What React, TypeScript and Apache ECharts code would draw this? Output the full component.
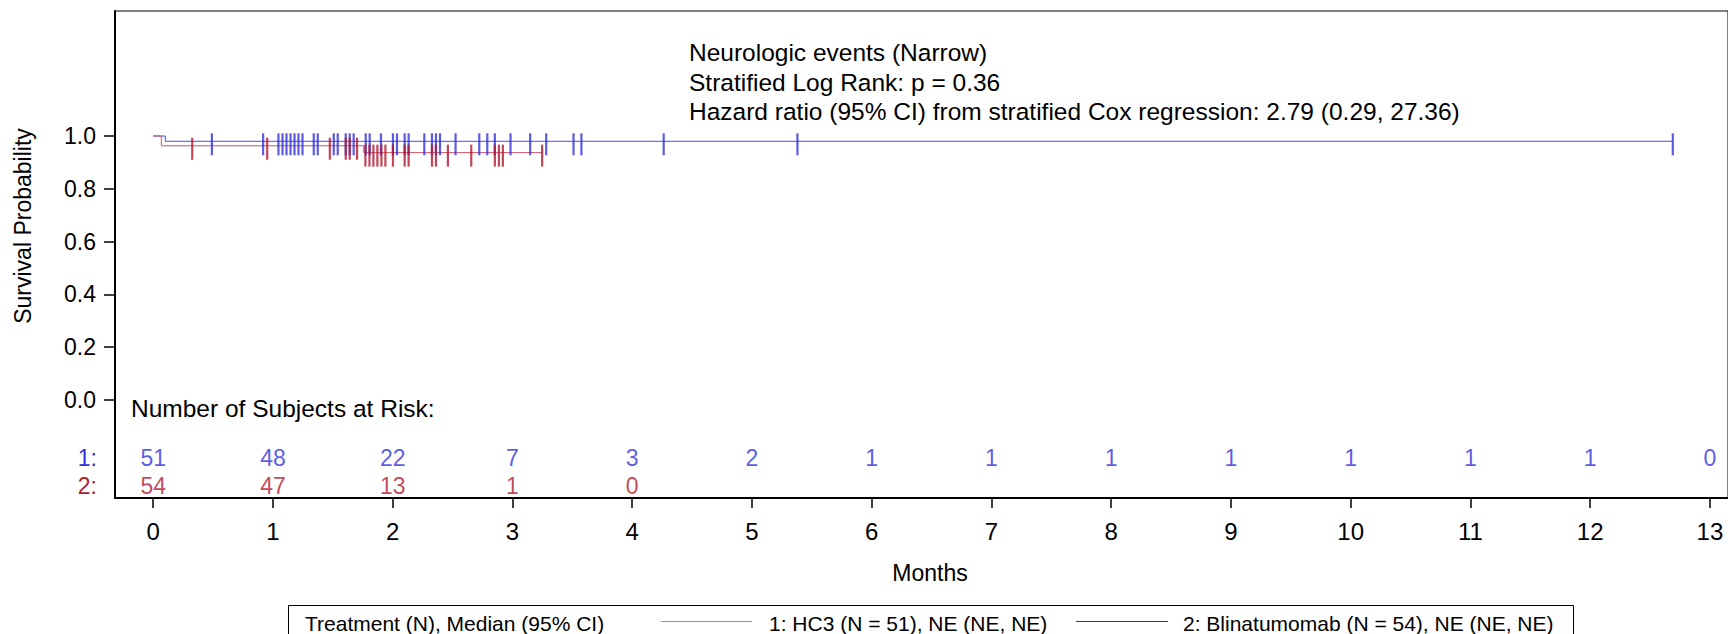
import React, { useEffect, useRef } from "react";
import * as echarts from "echarts";

// ---- data ----
const monthTicks = [0, 1, 2, 3, 4, 5, 6, 7, 8, 9, 10, 11, 12, 13];
const survTicks = [0, 0.2, 0.4, 0.6, 0.8, 1.0];

// Kaplan-Meier step curves [month, survival]
const hc3Curve = [
  [0, 1.0],
  [0.101, 0.980],
  [12.69, 0.980],
];
const blinCurve = [
  [0, 1.0],
  [0.068, 0.963],
  [1.758, 0.937],
  [3.248, 0.937],
];

// censoring times (months)
const hc3Censor = [
  0.49, 0.918, 1.046, 1.08, 1.113, 1.147, 1.18, 1.213, 1.247, 1.341, 1.374, 1.508, 1.541,
  1.608, 1.641, 1.674, 1.775, 1.808, 1.902, 2.002, 2.036, 2.1, 2.133, 2.264, 2.328, 2.361,
  2.395, 2.525, 2.723, 2.79, 2.853, 2.984, 3.148, 3.282, 3.51, 3.576, 4.263, 5.38, 12.69,
];
const blinCensor = [
  0.326, 0.952, 1.475, 1.608, 1.641, 1.702, 1.772, 1.806, 1.839, 1.872, 1.906, 1.939, 2.002,
  2.1, 2.133, 2.328, 2.361, 2.461, 2.656, 2.853, 2.887, 2.92, 3.248,
];

// numbers at risk at each month
const riskHC3 = [51, 48, 22, 7, 3, 2, 1, 1, 1, 1, 1, 1, 1, 0];
const riskBlin = [54, 47, 13, 1, 0];

const annotationLines = [
  "Neurologic events (Narrow)",
  "Stratified Log Rank: p = 0.36",
  "Hazard ratio (95% CI) from stratified Cox regression: 2.79 (0.29, 27.36)",
];
const legendTitle = "Treatment (N), Median (95% CI)";
const legendHC3 = "1: HC3 (N = 51), NE (NE, NE)";
const legendBlin = "2: Blinatumomab (N = 54), NE (NE, NE)";

// ---- styling / layout constants ----
const FONT = "'Liberation Sans', Arial, sans-serif";
const BLUE = "#3232dc";
const RED = "#b3182e";
const BLUE_LINE = "#4a4ae6";
const RED_LINE = "#cc5566";
const X_MIN = -0.319;
const X_MAX = 13.151;
const Y_MIN = -0.3712;
const Y_MAX = 1.4735;
const RISK_ROW1 = -0.2197;
const RISK_ROW2 = -0.3258;

function survAt(curve: number[][], t: number): number {
  let s = curve[0][1];
  for (const [x, y] of curve) {
    if (x <= t) s = y;
  }
  return s;
}

export default function App() {
  const ref = useRef<HTMLDivElement>(null);

  useEffect(() => {
    if (!ref.current) return;
    const chart = echarts.init(ref.current, undefined, { renderer: "svg" });

    const censorSeries = (name: string, times: number[], curve: number[][], color: string) => ({
      name,
      type: "scatter",
      data: times.map((t) => [t, survAt(curve, t)]),
      symbol: "rect",
      symbolSize: [2.2, 22],
      symbolOffset: [0, 3],
      itemStyle: { color },
      z: 4,
      silent: true,
    });

    const riskSeries = (name: string, vals: number[], row: number, color: string) => ({
      name,
      type: "scatter",
      data: vals.map((n, i) => [monthTicks[i], row, n]),
      symbolSize: 1,
      itemStyle: { color: "transparent" },
      label: {
        show: true,
        position: "inside",
        formatter: (p: any) => String(p.data[2]),
        color,
        fontSize: 23,
        fontFamily: FONT,
      },
      silent: true,
    });

    const txt = (text: string, x: number, y: number, size: number, fill = "#000", align = "left") => ({
      type: "text",
      x,
      y,
      style: { text, fontSize: size, fontFamily: FONT, fill, align, verticalAlign: "middle" },
    });

    chart.setOption({
      animation: false,
      grid: {
        left: 115,
        top: 11,
        right: -2,
        bottom: 136,
        show: true,
        borderColor: "#000",
        borderWidth: 1,
      },
      xAxis: {
        type: "value",
        min: X_MIN,
        max: X_MAX,
        axisLine: { show: true, onZero: false, lineStyle: { color: "#000", width: 2 } },
        axisTick: { show: true, length: 10, lineStyle: { color: "#000", width: 1.5 }, customValues: monthTicks },
        axisLabel: {
          customValues: monthTicks,
          formatter: (v: number) => String(Math.round(v)),
          color: "#000",
          fontSize: 24,
          fontFamily: FONT,
          margin: 21,
        },
        splitLine: { show: false },
      },
      yAxis: {
        type: "value",
        min: Y_MIN,
        max: Y_MAX,
        axisLine: { show: true, onZero: false, lineStyle: { color: "#000", width: 2 } },
        axisTick: { show: true, length: 11, lineStyle: { color: "#000", width: 1.5 }, customValues: survTicks },
        axisLabel: {
          customValues: survTicks,
          formatter: (v: number) => v.toFixed(1),
          color: "#000",
          fontSize: 23,
          fontFamily: FONT,
          margin: 19,
        },
        splitLine: { show: false },
      },
      series: [
        {
          name: "HC3",
          type: "line",
          step: "end",
          data: hc3Curve,
          showSymbol: false,
          symbol: "none",
          lineStyle: { color: BLUE_LINE, width: 1 },
          z: 3,
          silent: true,
        },
        {
          name: "Blinatumomab",
          type: "line",
          step: "end",
          data: blinCurve,
          showSymbol: false,
          symbol: "none",
          lineStyle: { color: RED_LINE, width: 1 },
          z: 3,
          silent: true,
        },
        censorSeries("HC3 censored", hc3Censor, hc3Curve, BLUE),
        censorSeries("Blinatumomab censored", blinCensor, blinCurve, RED),
        riskSeries("HC3 at risk", riskHC3, RISK_ROW1, BLUE),
        riskSeries("Blinatumomab at risk", riskBlin, RISK_ROW2, RED),
      ],
      graphic: [
        {
          type: "text",
          x: 23,
          y: 226,
          rotation: Math.PI / 2,
          style: {
            text: "Survival Probability",
            fontSize: 23,
            fontFamily: FONT,
            fill: "#000",
            align: "center",
            verticalAlign: "middle",
          },
        },
        ...annotationLines.map((t, i) => txt(t, 689, 52.5 + i * 29.5, 24.5)),
        txt("Number of Subjects at Risk:", 131, 408, 24.5),
        txt("1:", 97, 458, 23, BLUE, "right"),
        txt("2:", 97, 486, 23, RED, "right"),
        txt("Months", 930, 573, 23, "#000", "center"),
        {
          type: "rect",
          shape: { x: 288.5, y: 605.5, width: 1285, height: 40 },
          style: { fill: "none", stroke: "#000", lineWidth: 1 },
        },
        txt(legendTitle, 305, 623, 21),
        {
          type: "line",
          shape: { x1: 661, y1: 621.5, x2: 752, y2: 621.5 },
          style: { stroke: "#8c8cf0", lineWidth: 1 },
        },
        txt(legendHC3, 769, 623, 21),
        {
          type: "line",
          shape: { x1: 1076, y1: 621.5, x2: 1168, y2: 621.5 },
          style: { stroke: "#8b1a2a", lineWidth: 1 },
        },
        txt(legendBlin, 1183, 623, 21),
      ],
    });

    return () => chart.dispose();
  }, []);

  return (
    <div
      ref={ref}
      style={{ position: "absolute", left: 0, top: 0, width: 1728, height: 634, background: "#fff" }}
    />
  );
}
